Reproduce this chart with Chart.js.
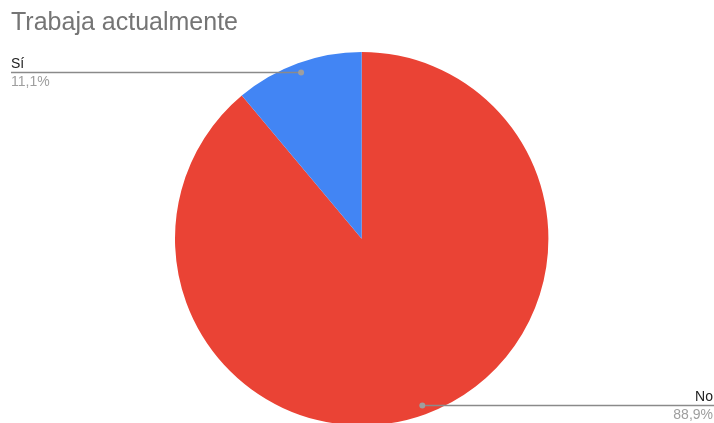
<!DOCTYPE html>
<html>
<head>
<meta charset="utf-8">
<script src="https://cdn.jsdelivr.net/npm/chart.js@4.4.1/dist/chart.umd.min.js"></script>
<style>
  html, body { margin: 0; padding: 0; background: #fff; overflow: hidden; }
  #wrap { width: 714px; height: 430px; position: relative; }
</style>
</head>
<body>
<div id="wrap"><canvas id="c"></canvas></div>
<script>
const TITLE = 'Trabaja actualmente'
const labels = ['No', 'Sí']
const values = [88.9, 11.1]
const colors = ['#ea4335', '#4285f4']

function pct (v, total) {
  return (v / total * 100).toFixed(1).replace('.', ',') + '%'
}

// leader lines + labels, drawn like the Sheets pie
const calloutPlugin = {
  id: 'callouts',
  afterDatasetsDraw (chart) {
    const { ctx } = chart
    const meta = chart.getDatasetMeta(0)
    const total = values.reduce((a, b) => a + b, 0)
    const W = chart.width

    ctx.save()
    ctx.font = '25px "Liberation Sans", Arial, sans-serif'
    ctx.fillStyle = '#757575'
    ctx.textAlign = 'left'
    ctx.textBaseline = 'alphabetic'
    ctx.fillText(TITLE, 11, 30)

    meta.data.forEach((arc, i) => {
      const { x, y, startAngle, endAngle, outerRadius } = arc.getProps(['x', 'y', 'startAngle', 'endAngle', 'outerRadius'], true)
      const mid = (startAngle + endAngle) / 2
      const px = x + Math.cos(mid) * outerRadius * 0.95
      const py = Math.round(y + Math.sin(mid) * outerRadius * 0.95) + 0.5
      const left = px < x
      const ex = left ? 11 : W

      ctx.strokeStyle = '#8a8a8a'
      ctx.lineWidth = 1.3
      ctx.beginPath()
      ctx.moveTo(px, py)
      ctx.lineTo(ex, py)
      ctx.stroke()

      ctx.fillStyle = '#9e9e9e'
      ctx.beginPath()
      ctx.arc(px, py, 3, 0, Math.PI * 2)
      ctx.fill()

      ctx.font = '14px "Liberation Sans", Arial, sans-serif'
      ctx.textAlign = left ? 'left' : 'right'
      const tx = left ? 11 : W - 1
      ctx.fillStyle = '#222'
      ctx.fillText(labels[i], tx, py - 4.5)
      ctx.fillStyle = '#9e9e9e'
      ctx.fillText(pct(values[i], total), tx, py + 13.5)
    })
    ctx.restore()
  }
}

new Chart(document.getElementById('c'), {
  type: 'pie',
  data: {
    labels,
    datasets: [{
      data: values,
      backgroundColor: colors,
      borderWidth: 0,
      hoverOffset: 0,
    }],
  },
  options: {
    responsive: true,
    maintainAspectRatio: false,
    animation: false,
    events: [],
    layout: { padding: { top: 52, bottom: 4.6, left: 175, right: 165.6 } },
    plugins: {
      legend: { display: false },
      title: { display: false },
      tooltip: { enabled: false },
    },
  },
  plugins: [calloutPlugin],
})
</script>
</body>
</html>
